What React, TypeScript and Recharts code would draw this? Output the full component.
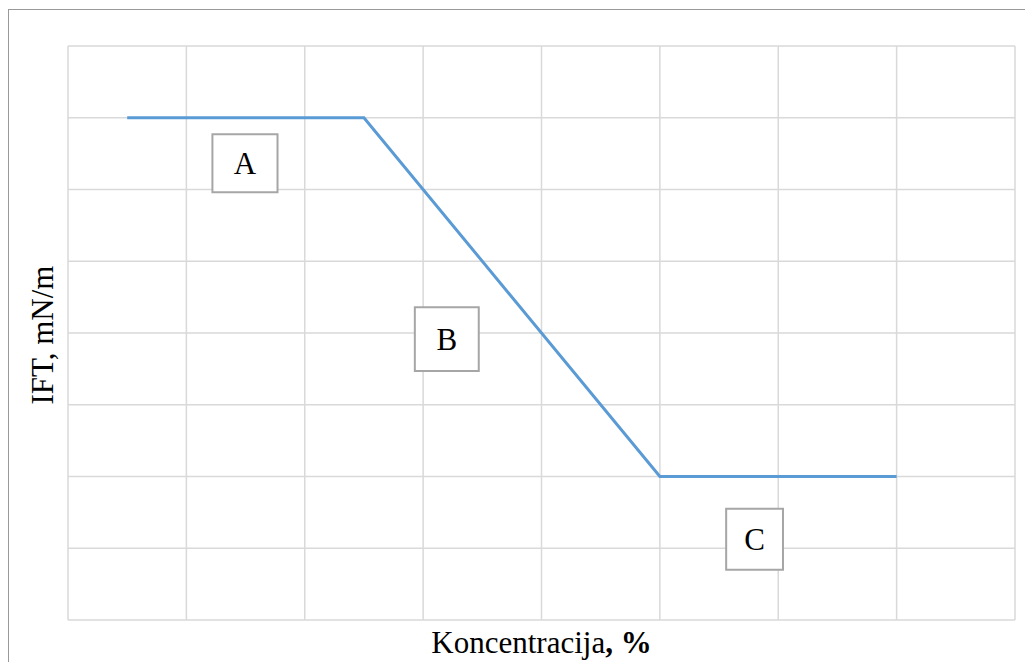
import React from 'react';
import { LineChart, Line, XAxis, YAxis, CartesianGrid, ReferenceArea, Label } from 'recharts';

// Concentration (x, arbitrary units) and IFT (y, arbitrary units)
const concentration = [0.5, 2.5, 5, 7];
const ift = [7, 7, 2, 2];
const axisTicks = [0, 1, 2, 3, 4, 5, 6, 7, 8];

// Region annotation boxes (data coordinates)
const regionLabels = ['A', 'B', 'C'];
const regionX1 = [1.22, 2.93, 5.56];
const regionX2 = [1.77, 3.47, 6.04];
const regionY1 = [5.96, 3.47, 0.70];
const regionY2 = [6.77, 4.36, 1.55];

const data = concentration.map((x, i) => ({ x, y: ift[i] }));
const FONT = '"Liberation Serif", "Times New Roman", serif';

const XTitle = (props: any) => {
  const vb = props.viewBox;
  const cx = vb.x + vb.width / 2;
  return (
    <text x={cx} y={vb.y + 33} textAnchor="middle" fontFamily={FONT} fontSize={31} fill="#000">
      <tspan>Koncentracija</tspan>
      <tspan fontWeight="bold">, %</tspan>
    </text>
  );
};

const YTitle = (props: any) => {
  const vb = props.viewBox;
  const cx = 45;
  const cy = vb.y + vb.height / 2 + 2;
  return (
    <text x={cx} y={cy} textAnchor="middle" fontFamily={FONT} fontSize={31} fill="#000" transform={`rotate(-90, ${cx}, ${cy})`}>
      IFT, mN/m
    </text>
  );
};

const emptyTick = () => '';

export default function App() {
  return (
    <div style={{ position: 'relative', width: 1017, height: 654, overflow: 'hidden', background: '#fff' }}>
      <div
        style={{
          position: 'absolute',
          left: 0,
          top: 1,
          width: 1100,
          height: 800,
          border: '1px solid #999',
          boxSizing: 'border-box',
        }}
      />
      <div style={{ position: 'absolute', left: 0, top: 0 }}>
        <LineChart width={1017} height={654} data={data} margin={{ top: 38, right: 10, bottom: 0, left: 0 }}>
          <CartesianGrid stroke="#d9d9d9" strokeWidth={1.5} />
          <XAxis
            dataKey="x"
            type="number"
            domain={[0, 8]}
            ticks={axisTicks}
            interval={0}
            tickFormatter={emptyTick}
            tickLine={false}
            axisLine={false}
            height={42}
          >
            <Label content={<XTitle />} />
          </XAxis>
          <YAxis
            type="number"
            domain={[0, 8]}
            ticks={axisTicks}
            interval={0}
            tickFormatter={emptyTick}
            tickLine={false}
            axisLine={false}
            width={60}
          >
            <Label content={<YTitle />} />
          </YAxis>
          {regionLabels.map((lab, i) => (
            <ReferenceArea
              key={lab}
              x1={regionX1[i]}
              x2={regionX2[i]}
              y1={regionY1[i]}
              y2={regionY2[i]}
              fill="#fff"
              fillOpacity={1}
              stroke="#a6a6a6"
              strokeWidth={2}
              ifOverflow="visible"
              label={{ value: lab, position: 'center', fontSize: 31, fill: '#000', fontFamily: FONT }}
            />
          ))}
          <Line
            dataKey="y"
            type="linear"
            stroke="#5b9bd5"
            strokeWidth={3}
            dot={false}
            activeDot={false}
            isAnimationActive={false}
          />
        </LineChart>
      </div>
    </div>
  );
}
